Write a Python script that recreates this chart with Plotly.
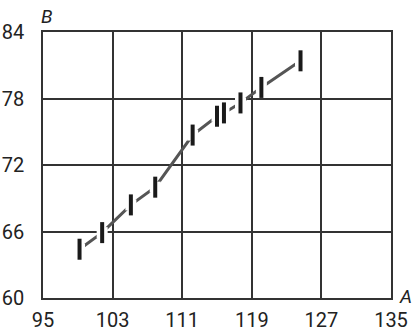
import plotly.graph_objects as go

A = [99.2, 101.8, 105.1, 107.9, 112.2, 115.0, 115.8, 117.7, 120.1, 124.6]
B = [64.4, 65.9, 68.4, 70.0, 74.7, 76.4, 76.7, 77.6, 79.0, 81.4]
x_ticks = [95, 103, 111, 119, 127, 135]
y_ticks = [60, 66, 72, 78, 84]

FONT = "Roboto, Arial, sans-serif"

fig = go.Figure()
fig.add_trace(go.Scatter(x=A, y=B, mode="lines",
                         line=dict(color="#555555", width=3), hoverinfo="skip"))
fig.add_trace(go.Scatter(x=A, y=B, mode="markers",
                         marker=dict(symbol="square", size=11, color="white",
                                     line=dict(width=0)), hoverinfo="skip"))
fig.add_trace(go.Scatter(x=A, y=B, mode="markers",
                         marker=dict(symbol="line-ns", size=15,
                                     line=dict(width=4, color="#1a1a1a"))))

axis_common = dict(showgrid=True, gridcolor="#333333", gridwidth=1.5,
                   showline=True, linecolor="#333333", linewidth=1.5, mirror=True,
                   zeroline=False, ticks="", automargin=False,
                   tickfont=dict(family=FONT, size=20, color="#222222"))
fig.update_xaxes(range=[95, 135], tickvals=x_ticks, ticktext=[str(v) for v in x_ticks],
                 ticklabelstandoff=3, **axis_common)
fig.update_yaxes(range=[60, 84], tickvals=y_ticks, ticktext=[str(v) for v in y_ticks],
                 ticklabelstandoff=13, **axis_common)

fig.add_annotation(text="<i>B</i>", xref="paper", yref="paper", x=0, y=1,
                   xshift=4, yshift=2, xanchor="center", yanchor="bottom",
                   showarrow=False, font=dict(family=FONT, size=19, color="#222222"))
fig.add_annotation(text="<i>A</i>", xref="paper", yref="paper", x=1, y=0,
                   xshift=6, yshift=2, xanchor="left", yanchor="middle",
                   showarrow=False, font=dict(family=FONT, size=19, color="#222222"))

fig.update_layout(width=414, height=333, showlegend=False,
                  margin=dict(l=43, r=23, t=32, b=35, autoexpand=False),
                  plot_bgcolor="white", paper_bgcolor="white")
fig.write_html("out.html", config={"displayModeBar": False},
               post_script="document.body.style.margin='0';document.body.style.overflow='hidden';")
